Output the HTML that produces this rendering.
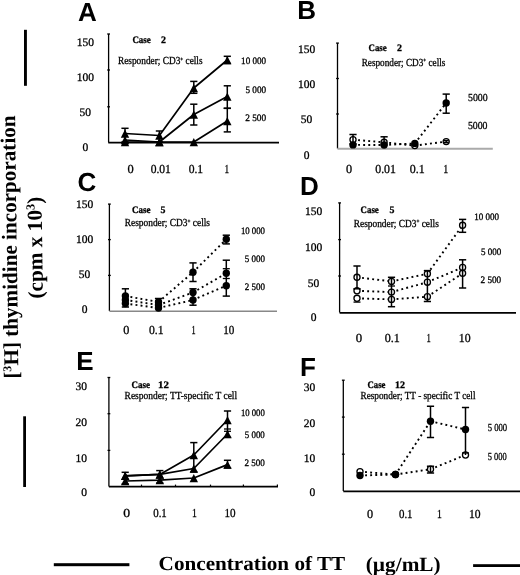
<!DOCTYPE html><html><head><meta charset="utf-8"><style>html,body{margin:0;padding:0;background:#fff;}svg{display:block;filter:grayscale(1);} text{text-rendering:geometricPrecision;}</style></head><body>
<svg width="520" height="575" viewBox="0 0 520 575">
<rect width="520" height="575" fill="#fff"/>
<text x="78.0" y="20.9" font-family='"Liberation Sans", sans-serif' font-size="26" font-weight="bold" text-anchor="start" fill="#000">A</text>
<text x="297.3" y="18.8" font-family='"Liberation Sans", sans-serif' font-size="26" font-weight="bold" text-anchor="start" fill="#000">B</text>
<text x="77.6" y="191.2" font-family='"Liberation Sans", sans-serif' font-size="26" font-weight="bold" text-anchor="start" fill="#000">C</text>
<text x="300.1" y="194.5" font-family='"Liberation Sans", sans-serif' font-size="26" font-weight="bold" text-anchor="start" fill="#000">D</text>
<text x="76.3" y="369.8" font-family='"Liberation Sans", sans-serif' font-size="26" font-weight="bold" text-anchor="start" fill="#000">E</text>
<text x="300.1" y="375.8" font-family='"Liberation Sans", sans-serif' font-size="26" font-weight="bold" text-anchor="start" fill="#000">F</text>
<rect x="24" y="29.8" width="2.9" height="56" fill="#000"/>
<rect x="23.2" y="416.3" width="2.8" height="70.7" fill="#000"/>
<g transform="translate(16.7,247.0) rotate(-90.75)">
<text x="0" y="0" font-family='"Liberation Serif", serif' font-size="21.15" font-weight="bold" text-anchor="middle" fill="#000">[<tspan font-size="12" dy="-7">3</tspan><tspan dy="7">H] thymidine incorporation</tspan></text>
</g>
<g transform="translate(42.2,247.6) rotate(-90.75)">
<text x="0" y="0" font-family='"Liberation Serif", serif' font-size="21.3" font-weight="bold" text-anchor="middle" fill="#000">(cpm x 10<tspan font-size="12.4" dy="-7.2">3</tspan><tspan dy="7.2">)</tspan></text>
</g>
<rect x="53.8" y="563.2" width="75.6" height="3" fill="#000"/>
<rect x="473.1" y="564.2" width="47" height="2.8" fill="#000"/>
<text x="158.6" y="570.2" font-family='"Liberation Serif", serif' font-size="19.9" font-weight="bold" textLength="186.6" lengthAdjust="spacingAndGlyphs" text-anchor="start" fill="#000">Concentration of TT</text>
<text x="365.8" y="571" font-family='"Liberation Serif", serif' font-size="20.3" font-weight="bold" textLength="74.8" lengthAdjust="spacingAndGlyphs" text-anchor="start" fill="#000">(µg/mL)</text>
<line x1="108.6" y1="34" x2="108.6" y2="142.6" stroke="#000" stroke-width="1.3" stroke-linecap="butt"/>
<line x1="107.19999999999999" y1="34" x2="110.0" y2="34" stroke="#000" stroke-width="1.3" stroke-linecap="butt"/>
<line x1="107.19999999999999" y1="70" x2="110.0" y2="70" stroke="#000" stroke-width="1.3" stroke-linecap="butt"/>
<line x1="107.19999999999999" y1="106.8" x2="110.0" y2="106.8" stroke="#000" stroke-width="1.3" stroke-linecap="butt"/>
<line x1="108.3" y1="142.6" x2="279" y2="142.6" stroke="#000" stroke-width="1.7" stroke-linecap="butt"/>
<text x="85.3" y="45.8" font-family='"Liberation Serif", serif' font-size="11.5" stroke="#000" stroke-width="0.3" text-anchor="middle" fill="#000">150</text>
<text x="85.3" y="80.6" font-family='"Liberation Serif", serif' font-size="11.5" stroke="#000" stroke-width="0.3" text-anchor="middle" fill="#000">100</text>
<text x="85.3" y="115.9" font-family='"Liberation Serif", serif' font-size="11.5" stroke="#000" stroke-width="0.3" text-anchor="middle" fill="#000">50</text>
<text x="85.3" y="151" font-family='"Liberation Serif", serif' font-size="11.5" stroke="#000" stroke-width="0.3" text-anchor="middle" fill="#000">0</text>
<text x="127.5465" y="172.5" font-family='"Liberation Serif", serif' font-size="12.3" textLength="6.21" lengthAdjust="spacingAndGlyphs" stroke="#000" stroke-width="0.3" text-anchor="start" fill="#000">0</text>
<text x="150.64649999999997" y="172.5" font-family='"Liberation Serif", serif' font-size="12.3" textLength="20.21" lengthAdjust="spacingAndGlyphs" stroke="#000" stroke-width="0.3" text-anchor="start" fill="#000">0.01</text>
<text x="188.64649999999997" y="172.5" font-family='"Liberation Serif", serif' font-size="12.3" textLength="14.51" lengthAdjust="spacingAndGlyphs" stroke="#000" stroke-width="0.3" text-anchor="start" fill="#000">0.1</text>
<text x="224.4465" y="172.5" font-family='"Liberation Serif", serif' font-size="12.3" textLength="4.61" lengthAdjust="spacingAndGlyphs" stroke="#000" stroke-width="0.3" text-anchor="start" fill="#000">1</text>
<text x="132.4" y="43.1" font-family='"Liberation Serif", serif' font-size="9.9" font-weight="bold" textLength="18.4" lengthAdjust="spacingAndGlyphs" stroke="#000" stroke-width="0.3" text-anchor="start" fill="#000">Case</text>
<text x="161.1" y="43.1" font-family='"Liberation Serif", serif' font-size="9.9" font-weight="bold" stroke="#000" stroke-width="0.3" text-anchor="start" fill="#000">2</text>
<text x="118" y="64.3" font-family='"Liberation Serif", serif' font-size="10.8" textLength="84.6" lengthAdjust="spacingAndGlyphs" stroke="#000" stroke-width="0.3" text-anchor="start" fill="#000">Responder; CD3<tspan font-size="6" dy="-3.5">+</tspan><tspan dy="3.5"> cells</tspan></text>
<text x="266.1" y="64.4" font-family='"Liberation Serif", serif' font-size="9.8" textLength="25" lengthAdjust="spacingAndGlyphs" stroke="#000" stroke-width="0.3" text-anchor="end" fill="#000">10 000</text>
<text x="266.1" y="93.1" font-family='"Liberation Serif", serif' font-size="9.8" textLength="20.7" lengthAdjust="spacingAndGlyphs" stroke="#000" stroke-width="0.3" text-anchor="end" fill="#000">5 000</text>
<text x="266.1" y="121.2" font-family='"Liberation Serif", serif' font-size="9.8" textLength="20.9" lengthAdjust="spacingAndGlyphs" stroke="#000" stroke-width="0.3" text-anchor="end" fill="#000">2 500</text>
<polyline points="125,133.5 159.4,135.5 193.8,88 227.3,60" fill="none" stroke="#000" stroke-width="1.7" stroke-linecap="butt" stroke-linejoin="round"/>
<polyline points="125,140 159.4,142 193.8,114.5 227.3,96.5" fill="none" stroke="#000" stroke-width="1.7" stroke-linecap="butt" stroke-linejoin="round"/>
<polyline points="125,142 159.4,142 193.8,142 227.3,121" fill="none" stroke="#000" stroke-width="1.7" stroke-linecap="butt" stroke-linejoin="round"/>
<line x1="125" y1="128.3" x2="125" y2="142" stroke="#000" stroke-width="1.5" stroke-linecap="butt"/>
<line x1="121.4" y1="128.3" x2="128.6" y2="128.3" stroke="#000" stroke-width="1.5" stroke-linecap="butt"/>
<line x1="121.4" y1="142" x2="128.6" y2="142" stroke="#000" stroke-width="1.5" stroke-linecap="butt"/>
<line x1="159.4" y1="131" x2="159.4" y2="142" stroke="#000" stroke-width="1.5" stroke-linecap="butt"/>
<line x1="155.8" y1="131" x2="163.0" y2="131" stroke="#000" stroke-width="1.5" stroke-linecap="butt"/>
<line x1="155.8" y1="142" x2="163.0" y2="142" stroke="#000" stroke-width="1.5" stroke-linecap="butt"/>
<line x1="193.8" y1="81.4" x2="193.8" y2="93.3" stroke="#000" stroke-width="1.5" stroke-linecap="butt"/>
<line x1="190.20000000000002" y1="81.4" x2="197.4" y2="81.4" stroke="#000" stroke-width="1.5" stroke-linecap="butt"/>
<line x1="190.20000000000002" y1="93.3" x2="197.4" y2="93.3" stroke="#000" stroke-width="1.5" stroke-linecap="butt"/>
<line x1="193.8" y1="104.2" x2="193.8" y2="125" stroke="#000" stroke-width="1.5" stroke-linecap="butt"/>
<line x1="190.20000000000002" y1="104.2" x2="197.4" y2="104.2" stroke="#000" stroke-width="1.5" stroke-linecap="butt"/>
<line x1="190.20000000000002" y1="125" x2="197.4" y2="125" stroke="#000" stroke-width="1.5" stroke-linecap="butt"/>
<line x1="227.3" y1="56.3" x2="227.3" y2="63.5" stroke="#000" stroke-width="1.5" stroke-linecap="butt"/>
<line x1="223.70000000000002" y1="56.3" x2="230.9" y2="56.3" stroke="#000" stroke-width="1.5" stroke-linecap="butt"/>
<line x1="223.70000000000002" y1="63.5" x2="230.9" y2="63.5" stroke="#000" stroke-width="1.5" stroke-linecap="butt"/>
<line x1="227.3" y1="85.8" x2="227.3" y2="108.3" stroke="#000" stroke-width="1.5" stroke-linecap="butt"/>
<line x1="223.70000000000002" y1="85.8" x2="230.9" y2="85.8" stroke="#000" stroke-width="1.5" stroke-linecap="butt"/>
<line x1="223.70000000000002" y1="108.3" x2="230.9" y2="108.3" stroke="#000" stroke-width="1.5" stroke-linecap="butt"/>
<line x1="227.3" y1="108.3" x2="227.3" y2="131.9" stroke="#000" stroke-width="1.5" stroke-linecap="butt"/>
<line x1="223.70000000000002" y1="108.3" x2="230.9" y2="108.3" stroke="#000" stroke-width="1.5" stroke-linecap="butt"/>
<line x1="223.70000000000002" y1="131.9" x2="230.9" y2="131.9" stroke="#000" stroke-width="1.5" stroke-linecap="butt"/>
<polygon points="120.8,137.764 129.2,137.764 125,129.564" fill="#000"/>
<polygon points="155.20000000000002,139.764 163.6,139.764 159.4,131.564" fill="#000"/>
<polygon points="189.60000000000002,92.264 198.0,92.264 193.8,84.06400000000001" fill="#000"/>
<polygon points="223.10000000000002,64.264 231.5,64.264 227.3,56.064" fill="#000"/>
<polygon points="120.8,144.264 129.2,144.264 125,136.064" fill="#000"/>
<polygon points="155.20000000000002,146.264 163.6,146.264 159.4,138.064" fill="#000"/>
<polygon points="189.60000000000002,118.764 198.0,118.764 193.8,110.56400000000001" fill="#000"/>
<polygon points="223.10000000000002,100.764 231.5,100.764 227.3,92.56400000000001" fill="#000"/>
<polygon points="120.8,146.264 129.2,146.264 125,138.064" fill="#000"/>
<polygon points="155.20000000000002,146.264 163.6,146.264 159.4,138.064" fill="#000"/>
<polygon points="189.60000000000002,146.264 198.0,146.264 193.8,138.064" fill="#000"/>
<polygon points="223.10000000000002,125.264 231.5,125.264 227.3,117.06400000000001" fill="#000"/>
<line x1="337.5" y1="43.1" x2="337.5" y2="148.5" stroke="#000" stroke-width="1.3" stroke-linecap="butt"/>
<line x1="336.1" y1="43.1" x2="338.9" y2="43.1" stroke="#000" stroke-width="1.3" stroke-linecap="butt"/>
<line x1="336.1" y1="78.5" x2="338.9" y2="78.5" stroke="#000" stroke-width="1.3" stroke-linecap="butt"/>
<line x1="336.1" y1="114" x2="338.9" y2="114" stroke="#000" stroke-width="1.3" stroke-linecap="butt"/>
<line x1="337.5" y1="148.7" x2="492.8" y2="148.7" stroke="#aaa" stroke-width="1.9" stroke-linecap="butt"/>
<text x="306.6" y="52.9" font-family='"Liberation Serif", serif' font-size="11.5" stroke="#000" stroke-width="0.3" text-anchor="middle" fill="#000">150</text>
<text x="306.6" y="87.9" font-family='"Liberation Serif", serif' font-size="11.5" stroke="#000" stroke-width="0.3" text-anchor="middle" fill="#000">100</text>
<text x="306.6" y="123.3" font-family='"Liberation Serif", serif' font-size="11.5" stroke="#000" stroke-width="0.3" text-anchor="middle" fill="#000">50</text>
<text x="306.6" y="158.7" font-family='"Liberation Serif", serif' font-size="11.5" stroke="#000" stroke-width="0.3" text-anchor="middle" fill="#000">0</text>
<text x="345.9465" y="172.7" font-family='"Liberation Serif", serif' font-size="12.3" textLength="6.11" lengthAdjust="spacingAndGlyphs" stroke="#000" stroke-width="0.3" text-anchor="start" fill="#000">0</text>
<text x="375.2465" y="172.7" font-family='"Liberation Serif", serif' font-size="12.3" textLength="20.71" lengthAdjust="spacingAndGlyphs" stroke="#000" stroke-width="0.3" text-anchor="start" fill="#000">0.01</text>
<text x="409.8465" y="172.7" font-family='"Liberation Serif", serif' font-size="12.3" textLength="14.91" lengthAdjust="spacingAndGlyphs" stroke="#000" stroke-width="0.3" text-anchor="start" fill="#000">0.1</text>
<text x="443.3465" y="172.7" font-family='"Liberation Serif", serif' font-size="12.3" textLength="5.01" lengthAdjust="spacingAndGlyphs" stroke="#000" stroke-width="0.3" text-anchor="start" fill="#000">1</text>
<text x="368.5" y="51" font-family='"Liberation Serif", serif' font-size="9.9" font-weight="bold" textLength="18.2" lengthAdjust="spacingAndGlyphs" stroke="#000" stroke-width="0.3" text-anchor="start" fill="#000">Case</text>
<text x="396.9" y="51" font-family='"Liberation Serif", serif' font-size="9.9" font-weight="bold" stroke="#000" stroke-width="0.3" text-anchor="start" fill="#000">2</text>
<text x="361.7" y="65.8" font-family='"Liberation Serif", serif' font-size="10.8" textLength="83.7" lengthAdjust="spacingAndGlyphs" stroke="#000" stroke-width="0.3" text-anchor="start" fill="#000">Responder; CD3<tspan font-size="6" dy="-3.5">+</tspan><tspan dy="3.5"> cells</tspan></text>
<text x="487.7" y="100.7" font-family='"Liberation Serif", serif' font-size="10.8" textLength="19.7" lengthAdjust="spacingAndGlyphs" stroke="#000" stroke-width="0.3" text-anchor="end" fill="#000">5000</text>
<text x="487.5" y="128.7" font-family='"Liberation Serif", serif' font-size="10.8" textLength="19.6" lengthAdjust="spacingAndGlyphs" stroke="#000" stroke-width="0.3" text-anchor="end" fill="#000">5000</text>
<line x1="353" y1="144.9" x2="384.1" y2="145" stroke="#000" stroke-width="1.9" stroke-linecap="butt" stroke-dasharray="1.9 3.2"/>
<line x1="384.1" y1="145" x2="414.8" y2="143.4" stroke="#000" stroke-width="1.9" stroke-linecap="butt" stroke-dasharray="1.9 3.2"/>
<line x1="414.8" y1="143.4" x2="446.2" y2="103" stroke="#000" stroke-width="1.9" stroke-linecap="butt" stroke-dasharray="1.9 3.2"/>
<line x1="353" y1="139.7" x2="384.1" y2="142.3" stroke="#000" stroke-width="1.9" stroke-linecap="butt" stroke-dasharray="1.9 3.2"/>
<line x1="384.1" y1="142.3" x2="414.8" y2="145.6" stroke="#000" stroke-width="1.9" stroke-linecap="butt" stroke-dasharray="1.9 3.2"/>
<line x1="414.8" y1="145.6" x2="446.2" y2="141.6" stroke="#000" stroke-width="1.9" stroke-linecap="butt" stroke-dasharray="1.9 3.2"/>
<circle cx="353" cy="139.7" r="3.0500000000000003" fill="#fff" stroke="#000" stroke-width="1.3"/>
<circle cx="384.1" cy="142.3" r="3.0500000000000003" fill="#fff" stroke="#000" stroke-width="1.3"/>
<circle cx="414.8" cy="145.6" r="3.0500000000000003" fill="#fff" stroke="#000" stroke-width="1.3"/>
<circle cx="446.2" cy="141.6" r="3.0500000000000003" fill="#fff" stroke="#000" stroke-width="1.3"/>
<line x1="353" y1="134.5" x2="353" y2="144" stroke="#000" stroke-width="1.5" stroke-linecap="butt"/>
<line x1="349.4" y1="134.5" x2="356.6" y2="134.5" stroke="#000" stroke-width="1.5" stroke-linecap="butt"/>
<line x1="349.4" y1="144" x2="356.6" y2="144" stroke="#000" stroke-width="1.5" stroke-linecap="butt"/>
<line x1="384.1" y1="136.8" x2="384.1" y2="145" stroke="#000" stroke-width="1.5" stroke-linecap="butt"/>
<line x1="380.5" y1="136.8" x2="387.70000000000005" y2="136.8" stroke="#000" stroke-width="1.5" stroke-linecap="butt"/>
<line x1="380.5" y1="145" x2="387.70000000000005" y2="145" stroke="#000" stroke-width="1.5" stroke-linecap="butt"/>
<line x1="446.2" y1="94.1" x2="446.2" y2="113.2" stroke="#000" stroke-width="1.5" stroke-linecap="butt"/>
<line x1="442.59999999999997" y1="94.1" x2="449.8" y2="94.1" stroke="#000" stroke-width="1.5" stroke-linecap="butt"/>
<line x1="442.59999999999997" y1="113.2" x2="449.8" y2="113.2" stroke="#000" stroke-width="1.5" stroke-linecap="butt"/>
<line x1="446.2" y1="140.6" x2="446.2" y2="142.6" stroke="#000" stroke-width="1.5" stroke-linecap="butt"/>
<line x1="443.7" y1="140.6" x2="448.7" y2="140.6" stroke="#000" stroke-width="1.5" stroke-linecap="butt"/>
<line x1="443.7" y1="142.6" x2="448.7" y2="142.6" stroke="#000" stroke-width="1.5" stroke-linecap="butt"/>
<circle cx="353" cy="144.9" r="3.7" fill="#000"/>
<circle cx="384.1" cy="145" r="3.7" fill="#000"/>
<circle cx="414.8" cy="143.4" r="3.7" fill="#000"/>
<circle cx="446.2" cy="103" r="3.7" fill="#000"/>
<line x1="109.4" y1="204.1" x2="109.4" y2="310.9" stroke="#000" stroke-width="1.3" stroke-linecap="butt"/>
<line x1="108.0" y1="204.1" x2="110.80000000000001" y2="204.1" stroke="#000" stroke-width="1.3" stroke-linecap="butt"/>
<line x1="108.0" y1="239.6" x2="110.80000000000001" y2="239.6" stroke="#000" stroke-width="1.3" stroke-linecap="butt"/>
<line x1="108.0" y1="275.4" x2="110.80000000000001" y2="275.4" stroke="#000" stroke-width="1.3" stroke-linecap="butt"/>
<line x1="109.4" y1="311.2" x2="277" y2="311.2" stroke="#888" stroke-width="1.6" stroke-linecap="butt"/>
<text x="84.5" y="207.6" font-family='"Liberation Serif", serif' font-size="11.5" stroke="#000" stroke-width="0.3" text-anchor="middle" fill="#000">150</text>
<text x="84.5" y="242.8" font-family='"Liberation Serif", serif' font-size="11.5" stroke="#000" stroke-width="0.3" text-anchor="middle" fill="#000">100</text>
<text x="84.5" y="278.3" font-family='"Liberation Serif", serif' font-size="11.5" stroke="#000" stroke-width="0.3" text-anchor="middle" fill="#000">50</text>
<text x="84.5" y="313" font-family='"Liberation Serif", serif' font-size="11.5" stroke="#000" stroke-width="0.3" text-anchor="middle" fill="#000">0</text>
<text x="123.1965" y="334.25" font-family='"Liberation Serif", serif' font-size="12.3" textLength="6.11" lengthAdjust="spacingAndGlyphs" stroke="#000" stroke-width="0.3" text-anchor="start" fill="#000">0</text>
<text x="148.9465" y="334.25" font-family='"Liberation Serif", serif' font-size="12.3" textLength="14.61" lengthAdjust="spacingAndGlyphs" stroke="#000" stroke-width="0.3" text-anchor="start" fill="#000">0.1</text>
<text x="191.4465" y="334.25" font-family='"Liberation Serif", serif' font-size="12.3" textLength="4.11" lengthAdjust="spacingAndGlyphs" stroke="#000" stroke-width="0.3" text-anchor="start" fill="#000">1</text>
<text x="223.1965" y="334.25" font-family='"Liberation Serif", serif' font-size="12.3" textLength="11.11" lengthAdjust="spacingAndGlyphs" stroke="#000" stroke-width="0.3" text-anchor="start" fill="#000">10</text>
<text x="131.9" y="212.5" font-family='"Liberation Serif", serif' font-size="9.9" font-weight="bold" textLength="18.5" lengthAdjust="spacingAndGlyphs" stroke="#000" stroke-width="0.3" text-anchor="start" fill="#000">Case</text>
<text x="160.4" y="212.5" font-family='"Liberation Serif", serif' font-size="9.9" font-weight="bold" stroke="#000" stroke-width="0.3" text-anchor="start" fill="#000">5</text>
<text x="124.8" y="226.3" font-family='"Liberation Serif", serif' font-size="10.8" textLength="85.2" lengthAdjust="spacingAndGlyphs" stroke="#000" stroke-width="0.3" text-anchor="start" fill="#000">Responder; CD3<tspan font-size="6" dy="-3.5">+</tspan><tspan dy="3.5"> cells</tspan></text>
<text x="265" y="233.7" font-family='"Liberation Serif", serif' font-size="9.8" textLength="24.1" lengthAdjust="spacingAndGlyphs" stroke="#000" stroke-width="0.3" text-anchor="end" fill="#000">10 000</text>
<text x="265" y="261.5" font-family='"Liberation Serif", serif' font-size="9.8" textLength="20.2" lengthAdjust="spacingAndGlyphs" stroke="#000" stroke-width="0.3" text-anchor="end" fill="#000">5 000</text>
<text x="265" y="289.9" font-family='"Liberation Serif", serif' font-size="9.8" textLength="20.2" lengthAdjust="spacingAndGlyphs" stroke="#000" stroke-width="0.3" text-anchor="end" fill="#000">2 500</text>
<line x1="125.4" y1="296" x2="158.5" y2="302" stroke="#000" stroke-width="1.9" stroke-linecap="butt" stroke-dasharray="1.9 3.2"/>
<line x1="158.5" y1="302" x2="193" y2="272.2" stroke="#000" stroke-width="1.9" stroke-linecap="butt" stroke-dasharray="1.9 3.2"/>
<line x1="193" y1="272.2" x2="226.3" y2="239.3" stroke="#000" stroke-width="1.9" stroke-linecap="butt" stroke-dasharray="1.9 3.2"/>
<line x1="125.4" y1="300" x2="158.5" y2="305" stroke="#000" stroke-width="1.9" stroke-linecap="butt" stroke-dasharray="1.9 3.2"/>
<line x1="158.5" y1="305" x2="193" y2="292.5" stroke="#000" stroke-width="1.9" stroke-linecap="butt" stroke-dasharray="1.9 3.2"/>
<line x1="193" y1="292.5" x2="226.3" y2="273.3" stroke="#000" stroke-width="1.9" stroke-linecap="butt" stroke-dasharray="1.9 3.2"/>
<line x1="125.4" y1="303.5" x2="158.5" y2="308" stroke="#000" stroke-width="1.9" stroke-linecap="butt" stroke-dasharray="1.9 3.2"/>
<line x1="158.5" y1="308" x2="193" y2="300" stroke="#000" stroke-width="1.9" stroke-linecap="butt" stroke-dasharray="1.9 3.2"/>
<line x1="193" y1="300" x2="226.3" y2="285.7" stroke="#000" stroke-width="1.9" stroke-linecap="butt" stroke-dasharray="1.9 3.2"/>
<line x1="125.4" y1="288.8" x2="125.4" y2="307" stroke="#000" stroke-width="1.5" stroke-linecap="butt"/>
<line x1="121.80000000000001" y1="288.8" x2="129.0" y2="288.8" stroke="#000" stroke-width="1.5" stroke-linecap="butt"/>
<line x1="121.80000000000001" y1="307" x2="129.0" y2="307" stroke="#000" stroke-width="1.5" stroke-linecap="butt"/>
<line x1="158.5" y1="298.5" x2="158.5" y2="311" stroke="#000" stroke-width="1.5" stroke-linecap="butt"/>
<line x1="154.9" y1="298.5" x2="162.1" y2="298.5" stroke="#000" stroke-width="1.5" stroke-linecap="butt"/>
<line x1="193" y1="262.9" x2="193" y2="281.5" stroke="#000" stroke-width="1.5" stroke-linecap="butt"/>
<line x1="189.4" y1="262.9" x2="196.6" y2="262.9" stroke="#000" stroke-width="1.5" stroke-linecap="butt"/>
<line x1="189.4" y1="281.5" x2="196.6" y2="281.5" stroke="#000" stroke-width="1.5" stroke-linecap="butt"/>
<line x1="193" y1="288.8" x2="193" y2="305.2" stroke="#000" stroke-width="1.5" stroke-linecap="butt"/>
<line x1="189.4" y1="288.8" x2="196.6" y2="288.8" stroke="#000" stroke-width="1.5" stroke-linecap="butt"/>
<line x1="189.4" y1="305.2" x2="196.6" y2="305.2" stroke="#000" stroke-width="1.5" stroke-linecap="butt"/>
<line x1="226.3" y1="235.2" x2="226.3" y2="243.9" stroke="#000" stroke-width="1.5" stroke-linecap="butt"/>
<line x1="222.70000000000002" y1="235.2" x2="229.9" y2="235.2" stroke="#000" stroke-width="1.5" stroke-linecap="butt"/>
<line x1="222.70000000000002" y1="243.9" x2="229.9" y2="243.9" stroke="#000" stroke-width="1.5" stroke-linecap="butt"/>
<line x1="226.3" y1="260.2" x2="226.3" y2="296.1" stroke="#000" stroke-width="1.5" stroke-linecap="butt"/>
<line x1="222.70000000000002" y1="260.2" x2="229.9" y2="260.2" stroke="#000" stroke-width="1.5" stroke-linecap="butt"/>
<line x1="222.70000000000002" y1="296.1" x2="229.9" y2="296.1" stroke="#000" stroke-width="1.5" stroke-linecap="butt"/>
<line x1="222.8" y1="268.7" x2="229.8" y2="268.7" stroke="#000" stroke-width="1.3" stroke-linecap="butt"/>
<line x1="222.8" y1="278.5" x2="229.8" y2="278.5" stroke="#000" stroke-width="1.3" stroke-linecap="butt"/>
<circle cx="125.4" cy="296" r="3.7" fill="#000"/>
<circle cx="158.5" cy="302" r="3.7" fill="#000"/>
<circle cx="193" cy="272.2" r="3.7" fill="#000"/>
<circle cx="226.3" cy="239.3" r="3.7" fill="#000"/>
<circle cx="125.4" cy="300" r="3.7" fill="#000"/>
<circle cx="158.5" cy="305" r="3.7" fill="#000"/>
<circle cx="193" cy="292.5" r="3.7" fill="#000"/>
<circle cx="226.3" cy="273.3" r="3.7" fill="#000"/>
<circle cx="125.4" cy="303.5" r="3.7" fill="#000"/>
<circle cx="158.5" cy="308" r="3.7" fill="#000"/>
<circle cx="193" cy="300" r="3.7" fill="#000"/>
<circle cx="226.3" cy="285.7" r="3.7" fill="#000"/>
<line x1="339.6" y1="202.9" x2="339.6" y2="312.5" stroke="#000" stroke-width="1.3" stroke-linecap="butt"/>
<line x1="338.20000000000005" y1="202.9" x2="341.0" y2="202.9" stroke="#000" stroke-width="1.3" stroke-linecap="butt"/>
<line x1="338.20000000000005" y1="239.6" x2="341.0" y2="239.6" stroke="#000" stroke-width="1.3" stroke-linecap="butt"/>
<line x1="338.20000000000005" y1="276" x2="341.0" y2="276" stroke="#000" stroke-width="1.3" stroke-linecap="butt"/>
<line x1="339.6" y1="312.8" x2="516" y2="312.8" stroke="#000" stroke-width="1.7" stroke-linecap="butt"/>
<text x="313.5" y="215.4" font-family='"Liberation Serif", serif' font-size="11.5" stroke="#000" stroke-width="0.3" text-anchor="middle" fill="#000">150</text>
<text x="313.5" y="251.1" font-family='"Liberation Serif", serif' font-size="11.5" stroke="#000" stroke-width="0.3" text-anchor="middle" fill="#000">100</text>
<text x="313.5" y="286.7" font-family='"Liberation Serif", serif' font-size="11.5" stroke="#000" stroke-width="0.3" text-anchor="middle" fill="#000">50</text>
<text x="313.5" y="320.6" font-family='"Liberation Serif", serif' font-size="11.5" stroke="#000" stroke-width="0.3" text-anchor="middle" fill="#000">0</text>
<text x="355.6465" y="341.7" font-family='"Liberation Serif", serif' font-size="12.3" textLength="6.41" lengthAdjust="spacingAndGlyphs" stroke="#000" stroke-width="0.3" text-anchor="start" fill="#000">0</text>
<text x="384.6465" y="341.7" font-family='"Liberation Serif", serif' font-size="12.3" textLength="15.11" lengthAdjust="spacingAndGlyphs" stroke="#000" stroke-width="0.3" text-anchor="start" fill="#000">0.1</text>
<text x="426.4465" y="341.7" font-family='"Liberation Serif", serif' font-size="12.3" textLength="4.31" lengthAdjust="spacingAndGlyphs" stroke="#000" stroke-width="0.3" text-anchor="start" fill="#000">1</text>
<text x="458.7465" y="341.7" font-family='"Liberation Serif", serif' font-size="12.3" textLength="11.81" lengthAdjust="spacingAndGlyphs" stroke="#000" stroke-width="0.3" text-anchor="start" fill="#000">10</text>
<text x="360.6" y="212.9" font-family='"Liberation Serif", serif' font-size="9.9" font-weight="bold" textLength="18.2" lengthAdjust="spacingAndGlyphs" stroke="#000" stroke-width="0.3" text-anchor="start" fill="#000">Case</text>
<text x="389.4" y="212.9" font-family='"Liberation Serif", serif' font-size="9.9" font-weight="bold" stroke="#000" stroke-width="0.3" text-anchor="start" fill="#000">5</text>
<text x="353.8" y="226.9" font-family='"Liberation Serif", serif' font-size="10.8" textLength="85" lengthAdjust="spacingAndGlyphs" stroke="#000" stroke-width="0.3" text-anchor="start" fill="#000">Responder; CD3<tspan font-size="6" dy="-3.5">+</tspan><tspan dy="3.5"> cells</tspan></text>
<text x="499" y="219.8" font-family='"Liberation Serif", serif' font-size="9.8" textLength="24.8" lengthAdjust="spacingAndGlyphs" stroke="#000" stroke-width="0.3" text-anchor="end" fill="#000">10 000</text>
<text x="501.2" y="255.2" font-family='"Liberation Serif", serif' font-size="9.8" textLength="20.3" lengthAdjust="spacingAndGlyphs" stroke="#000" stroke-width="0.3" text-anchor="end" fill="#000">5 000</text>
<text x="501.2" y="282.9" font-family='"Liberation Serif", serif' font-size="9.8" textLength="20.7" lengthAdjust="spacingAndGlyphs" stroke="#000" stroke-width="0.3" text-anchor="end" fill="#000">2 500</text>
<line x1="357" y1="277.3" x2="391.5" y2="281.4" stroke="#000" stroke-width="1.9" stroke-linecap="butt" stroke-dasharray="1.9 3.2"/>
<line x1="391.5" y1="281.4" x2="427.4" y2="273.8" stroke="#000" stroke-width="1.9" stroke-linecap="butt" stroke-dasharray="1.9 3.2"/>
<line x1="427.4" y1="273.8" x2="462.6" y2="225.3" stroke="#000" stroke-width="1.9" stroke-linecap="butt" stroke-dasharray="1.9 3.2"/>
<line x1="357" y1="290.8" x2="391.5" y2="292.1" stroke="#000" stroke-width="1.9" stroke-linecap="butt" stroke-dasharray="1.9 3.2"/>
<line x1="391.5" y1="292.1" x2="427.4" y2="282.2" stroke="#000" stroke-width="1.9" stroke-linecap="butt" stroke-dasharray="1.9 3.2"/>
<line x1="427.4" y1="282.2" x2="462.6" y2="267.4" stroke="#000" stroke-width="1.9" stroke-linecap="butt" stroke-dasharray="1.9 3.2"/>
<line x1="357" y1="298.3" x2="391.5" y2="299.4" stroke="#000" stroke-width="1.9" stroke-linecap="butt" stroke-dasharray="1.9 3.2"/>
<line x1="391.5" y1="299.4" x2="427.4" y2="296.7" stroke="#000" stroke-width="1.9" stroke-linecap="butt" stroke-dasharray="1.9 3.2"/>
<line x1="427.4" y1="296.7" x2="462.6" y2="273.3" stroke="#000" stroke-width="1.9" stroke-linecap="butt" stroke-dasharray="1.9 3.2"/>
<circle cx="357" cy="277.3" r="3.0500000000000003" fill="#fff" stroke="#000" stroke-width="1.3"/>
<circle cx="391.5" cy="281.4" r="3.0500000000000003" fill="#fff" stroke="#000" stroke-width="1.3"/>
<circle cx="427.4" cy="273.8" r="3.0500000000000003" fill="#fff" stroke="#000" stroke-width="1.3"/>
<circle cx="462.6" cy="225.3" r="3.0500000000000003" fill="#fff" stroke="#000" stroke-width="1.3"/>
<circle cx="357" cy="290.8" r="3.0500000000000003" fill="#fff" stroke="#000" stroke-width="1.3"/>
<circle cx="391.5" cy="292.1" r="3.0500000000000003" fill="#fff" stroke="#000" stroke-width="1.3"/>
<circle cx="427.4" cy="282.2" r="3.0500000000000003" fill="#fff" stroke="#000" stroke-width="1.3"/>
<circle cx="462.6" cy="267.4" r="3.0500000000000003" fill="#fff" stroke="#000" stroke-width="1.3"/>
<circle cx="357" cy="298.3" r="3.0500000000000003" fill="#fff" stroke="#000" stroke-width="1.3"/>
<circle cx="391.5" cy="299.4" r="3.0500000000000003" fill="#fff" stroke="#000" stroke-width="1.3"/>
<circle cx="427.4" cy="296.7" r="3.0500000000000003" fill="#fff" stroke="#000" stroke-width="1.3"/>
<circle cx="462.6" cy="273.3" r="3.0500000000000003" fill="#fff" stroke="#000" stroke-width="1.3"/>
<line x1="357" y1="266" x2="357" y2="288.8" stroke="#000" stroke-width="1.5" stroke-linecap="butt"/>
<line x1="353.4" y1="266" x2="360.6" y2="266" stroke="#000" stroke-width="1.5" stroke-linecap="butt"/>
<line x1="353.4" y1="288.8" x2="360.6" y2="288.8" stroke="#000" stroke-width="1.5" stroke-linecap="butt"/>
<line x1="353.5" y1="302.1" x2="360.5" y2="302.1" stroke="#000" stroke-width="1.3" stroke-linecap="butt"/>
<line x1="391.5" y1="277.3" x2="391.5" y2="306.7" stroke="#000" stroke-width="1.5" stroke-linecap="butt"/>
<line x1="387.9" y1="277.3" x2="395.1" y2="277.3" stroke="#000" stroke-width="1.5" stroke-linecap="butt"/>
<line x1="387.9" y1="306.7" x2="395.1" y2="306.7" stroke="#000" stroke-width="1.5" stroke-linecap="butt"/>
<line x1="388.0" y1="286" x2="395.0" y2="286" stroke="#000" stroke-width="1.3" stroke-linecap="butt"/>
<line x1="427.4" y1="270.6" x2="427.4" y2="301.5" stroke="#000" stroke-width="1.5" stroke-linecap="butt"/>
<line x1="423.79999999999995" y1="270.6" x2="431.0" y2="270.6" stroke="#000" stroke-width="1.5" stroke-linecap="butt"/>
<line x1="423.79999999999995" y1="301.5" x2="431.0" y2="301.5" stroke="#000" stroke-width="1.5" stroke-linecap="butt"/>
<line x1="462.6" y1="219.4" x2="462.6" y2="232.3" stroke="#000" stroke-width="1.5" stroke-linecap="butt"/>
<line x1="459.0" y1="219.4" x2="466.20000000000005" y2="219.4" stroke="#000" stroke-width="1.5" stroke-linecap="butt"/>
<line x1="459.0" y1="232.3" x2="466.20000000000005" y2="232.3" stroke="#000" stroke-width="1.5" stroke-linecap="butt"/>
<line x1="462.6" y1="259.8" x2="462.6" y2="288" stroke="#000" stroke-width="1.5" stroke-linecap="butt"/>
<line x1="459.0" y1="259.8" x2="466.20000000000005" y2="259.8" stroke="#000" stroke-width="1.5" stroke-linecap="butt"/>
<line x1="459.0" y1="288" x2="466.20000000000005" y2="288" stroke="#000" stroke-width="1.5" stroke-linecap="butt"/>
<line x1="108.9" y1="377.5" x2="108.9" y2="486.4" stroke="#000" stroke-width="1.3" stroke-linecap="butt"/>
<line x1="107.5" y1="377.5" x2="110.30000000000001" y2="377.5" stroke="#000" stroke-width="1.3" stroke-linecap="butt"/>
<line x1="107.5" y1="413.7" x2="110.30000000000001" y2="413.7" stroke="#000" stroke-width="1.3" stroke-linecap="butt"/>
<line x1="107.5" y1="450.4" x2="110.30000000000001" y2="450.4" stroke="#000" stroke-width="1.3" stroke-linecap="butt"/>
<line x1="108.9" y1="486.6" x2="278" y2="486.6" stroke="#000" stroke-width="1.7" stroke-linecap="butt"/>
<line x1="141.5" y1="484.6" x2="141.5" y2="486.6" stroke="#000" stroke-width="1.2" stroke-linecap="butt"/>
<line x1="175.5" y1="484.6" x2="175.5" y2="486.6" stroke="#000" stroke-width="1.2" stroke-linecap="butt"/>
<line x1="210.5" y1="484.6" x2="210.5" y2="486.6" stroke="#000" stroke-width="1.2" stroke-linecap="butt"/>
<line x1="243.4" y1="484.6" x2="243.4" y2="486.6" stroke="#000" stroke-width="1.2" stroke-linecap="butt"/>
<line x1="277.4" y1="484.6" x2="277.4" y2="486.6" stroke="#000" stroke-width="1.2" stroke-linecap="butt"/>
<text x="87" y="390.4" font-family='"Liberation Serif", serif' font-size="11.5" stroke="#000" stroke-width="0.3" text-anchor="end" fill="#000">30</text>
<text x="87" y="426.1" font-family='"Liberation Serif", serif' font-size="11.5" stroke="#000" stroke-width="0.3" text-anchor="end" fill="#000">20</text>
<text x="87" y="461.7" font-family='"Liberation Serif", serif' font-size="11.5" stroke="#000" stroke-width="0.3" text-anchor="end" fill="#000">10</text>
<text x="87" y="495.6" font-family='"Liberation Serif", serif' font-size="11.5" stroke="#000" stroke-width="0.3" text-anchor="end" fill="#000">0</text>
<text x="123.1965" y="517" font-family='"Liberation Serif", serif' font-size="12.3" textLength="6.86" lengthAdjust="spacingAndGlyphs" stroke="#000" stroke-width="0.3" text-anchor="start" fill="#000">0</text>
<text x="153.1965" y="517" font-family='"Liberation Serif", serif' font-size="12.3" textLength="13.61" lengthAdjust="spacingAndGlyphs" stroke="#000" stroke-width="0.3" text-anchor="start" fill="#000">0.1</text>
<text x="191.9465" y="517" font-family='"Liberation Serif", serif' font-size="12.3" textLength="4.86" lengthAdjust="spacingAndGlyphs" stroke="#000" stroke-width="0.3" text-anchor="start" fill="#000">1</text>
<text x="224.4465" y="517" font-family='"Liberation Serif", serif' font-size="12.3" textLength="11.11" lengthAdjust="spacingAndGlyphs" stroke="#000" stroke-width="0.3" text-anchor="start" fill="#000">10</text>
<text x="131.5" y="387.7" font-family='"Liberation Serif", serif' font-size="9.9" font-weight="bold" textLength="18.5" lengthAdjust="spacingAndGlyphs" stroke="#000" stroke-width="0.3" text-anchor="start" fill="#000">Case</text>
<text x="158.1" y="387.7" font-family='"Liberation Serif", serif' font-size="9.9" font-weight="bold" textLength="10.8" lengthAdjust="spacingAndGlyphs" stroke="#000" stroke-width="0.3" text-anchor="start" fill="#000">12</text>
<text x="124.6" y="398.8" font-family='"Liberation Serif", serif' font-size="10.8" textLength="112.5" lengthAdjust="spacingAndGlyphs" stroke="#000" stroke-width="0.3" text-anchor="start" fill="#000">Responder; TT-specific T cell</text>
<text x="264.8" y="416.3" font-family='"Liberation Serif", serif' font-size="9.8" textLength="23.9" lengthAdjust="spacingAndGlyphs" stroke="#000" stroke-width="0.3" text-anchor="end" fill="#000">10 000</text>
<text x="264.8" y="437.6" font-family='"Liberation Serif", serif' font-size="9.8" textLength="20" lengthAdjust="spacingAndGlyphs" stroke="#000" stroke-width="0.3" text-anchor="end" fill="#000">5 000</text>
<text x="264.8" y="466" font-family='"Liberation Serif", serif' font-size="9.8" textLength="20.4" lengthAdjust="spacingAndGlyphs" stroke="#000" stroke-width="0.3" text-anchor="end" fill="#000">2 500</text>
<polyline points="125.2,475.8 159.8,474.4 193.8,455 227.5,420" fill="none" stroke="#000" stroke-width="1.7" stroke-linecap="butt" stroke-linejoin="round"/>
<polyline points="125.2,475.8 159.8,474.4 193.8,468.5 227.5,434" fill="none" stroke="#000" stroke-width="1.7" stroke-linecap="butt" stroke-linejoin="round"/>
<polyline points="125.2,481 159.8,480.1 193.8,478 227.5,464.6" fill="none" stroke="#000" stroke-width="1.7" stroke-linecap="butt" stroke-linejoin="round"/>
<line x1="125.2" y1="472.3" x2="125.2" y2="484" stroke="#000" stroke-width="1.5" stroke-linecap="butt"/>
<line x1="121.60000000000001" y1="472.3" x2="128.8" y2="472.3" stroke="#000" stroke-width="1.5" stroke-linecap="butt"/>
<line x1="121.60000000000001" y1="484" x2="128.8" y2="484" stroke="#000" stroke-width="1.5" stroke-linecap="butt"/>
<line x1="159.8" y1="470.6" x2="159.8" y2="483" stroke="#000" stroke-width="1.5" stroke-linecap="butt"/>
<line x1="156.20000000000002" y1="470.6" x2="163.4" y2="470.6" stroke="#000" stroke-width="1.5" stroke-linecap="butt"/>
<line x1="156.20000000000002" y1="483" x2="163.4" y2="483" stroke="#000" stroke-width="1.5" stroke-linecap="butt"/>
<line x1="193.8" y1="442.6" x2="193.8" y2="472" stroke="#000" stroke-width="1.5" stroke-linecap="butt"/>
<line x1="190.20000000000002" y1="442.6" x2="197.4" y2="442.6" stroke="#000" stroke-width="1.5" stroke-linecap="butt"/>
<line x1="190.20000000000002" y1="472" x2="197.4" y2="472" stroke="#000" stroke-width="1.5" stroke-linecap="butt"/>
<line x1="227.5" y1="411" x2="227.5" y2="437.3" stroke="#000" stroke-width="1.5" stroke-linecap="butt"/>
<line x1="223.9" y1="411" x2="231.1" y2="411" stroke="#000" stroke-width="1.5" stroke-linecap="butt"/>
<line x1="223.9" y1="437.3" x2="231.1" y2="437.3" stroke="#000" stroke-width="1.5" stroke-linecap="butt"/>
<line x1="224.0" y1="429" x2="231.0" y2="429" stroke="#000" stroke-width="1.3" stroke-linecap="butt"/>
<line x1="224.0" y1="431.3" x2="231.0" y2="431.3" stroke="#000" stroke-width="1.3" stroke-linecap="butt"/>
<line x1="227.5" y1="460.3" x2="227.5" y2="468" stroke="#000" stroke-width="1.5" stroke-linecap="butt"/>
<line x1="223.9" y1="460.3" x2="231.1" y2="460.3" stroke="#000" stroke-width="1.5" stroke-linecap="butt"/>
<line x1="223.9" y1="468" x2="231.1" y2="468" stroke="#000" stroke-width="1.5" stroke-linecap="butt"/>
<polygon points="121.0,480.064 129.4,480.064 125.2,471.86400000000003" fill="#000"/>
<polygon points="155.60000000000002,478.664 164.0,478.664 159.8,470.464" fill="#000"/>
<polygon points="189.60000000000002,459.264 198.0,459.264 193.8,451.064" fill="#000"/>
<polygon points="223.3,424.264 231.7,424.264 227.5,416.064" fill="#000"/>
<polygon points="121.0,480.064 129.4,480.064 125.2,471.86400000000003" fill="#000"/>
<polygon points="155.60000000000002,478.664 164.0,478.664 159.8,470.464" fill="#000"/>
<polygon points="189.60000000000002,472.764 198.0,472.764 193.8,464.564" fill="#000"/>
<polygon points="223.3,438.264 231.7,438.264 227.5,430.064" fill="#000"/>
<polygon points="121.0,485.264 129.4,485.264 125.2,477.064" fill="#000"/>
<polygon points="155.60000000000002,484.36400000000003 164.0,484.36400000000003 159.8,476.16400000000004" fill="#000"/>
<polygon points="189.60000000000002,482.264 198.0,482.264 193.8,474.064" fill="#000"/>
<polygon points="223.3,468.86400000000003 231.7,468.86400000000003 227.5,460.66400000000004" fill="#000"/>
<line x1="343.3" y1="380.2" x2="343.3" y2="491" stroke="#000" stroke-width="1.3" stroke-linecap="butt"/>
<line x1="341.90000000000003" y1="380.2" x2="344.7" y2="380.2" stroke="#000" stroke-width="1.3" stroke-linecap="butt"/>
<line x1="341.90000000000003" y1="417.1" x2="344.7" y2="417.1" stroke="#000" stroke-width="1.3" stroke-linecap="butt"/>
<line x1="341.90000000000003" y1="454.2" x2="344.7" y2="454.2" stroke="#000" stroke-width="1.3" stroke-linecap="butt"/>
<line x1="343.3" y1="491.4" x2="520" y2="491.4" stroke="#000" stroke-width="1.7" stroke-linecap="butt"/>
<text x="315.2" y="390.8" font-family='"Liberation Serif", serif' font-size="11.5" stroke="#000" stroke-width="0.3" text-anchor="end" fill="#000">30</text>
<text x="315.2" y="426.6" font-family='"Liberation Serif", serif' font-size="11.5" stroke="#000" stroke-width="0.3" text-anchor="end" fill="#000">20</text>
<text x="315.2" y="461.7" font-family='"Liberation Serif", serif' font-size="11.5" stroke="#000" stroke-width="0.3" text-anchor="end" fill="#000">10</text>
<text x="315.2" y="495.6" font-family='"Liberation Serif", serif' font-size="11.5" stroke="#000" stroke-width="0.3" text-anchor="end" fill="#000">0</text>
<text x="366.9465" y="517.5" font-family='"Liberation Serif", serif' font-size="12.3" textLength="6.11" lengthAdjust="spacingAndGlyphs" stroke="#000" stroke-width="0.3" text-anchor="start" fill="#000">0</text>
<text x="398.9465" y="517.5" font-family='"Liberation Serif", serif' font-size="12.3" textLength="13.61" lengthAdjust="spacingAndGlyphs" stroke="#000" stroke-width="0.3" text-anchor="start" fill="#000">0.1</text>
<text x="436.9465" y="517.5" font-family='"Liberation Serif", serif' font-size="12.3" textLength="4.86" lengthAdjust="spacingAndGlyphs" stroke="#000" stroke-width="0.3" text-anchor="start" fill="#000">1</text>
<text x="468.9465" y="517.5" font-family='"Liberation Serif", serif' font-size="12.3" textLength="11.61" lengthAdjust="spacingAndGlyphs" stroke="#000" stroke-width="0.3" text-anchor="start" fill="#000">10</text>
<text x="367.5" y="388.25" font-family='"Liberation Serif", serif' font-size="9.9" font-weight="bold" textLength="18" lengthAdjust="spacingAndGlyphs" stroke="#000" stroke-width="0.3" text-anchor="start" fill="#000">Case</text>
<text x="395" y="388.25" font-family='"Liberation Serif", serif' font-size="9.9" font-weight="bold" textLength="10" lengthAdjust="spacingAndGlyphs" stroke="#000" stroke-width="0.3" text-anchor="start" fill="#000">12</text>
<text x="360.5" y="399.25" font-family='"Liberation Serif", serif' font-size="10.8" textLength="115" lengthAdjust="spacingAndGlyphs" stroke="#000" stroke-width="0.3" text-anchor="start" fill="#000">Responder; TT - specific T cell</text>
<text x="507.2" y="430.9" font-family='"Liberation Serif", serif' font-size="10.8" textLength="19.5" lengthAdjust="spacingAndGlyphs" stroke="#000" stroke-width="0.3" text-anchor="end" fill="#000">5 000</text>
<text x="506.7" y="459.6" font-family='"Liberation Serif", serif' font-size="10.8" textLength="19" lengthAdjust="spacingAndGlyphs" stroke="#000" stroke-width="0.3" text-anchor="end" fill="#000">5 000</text>
<line x1="360" y1="475.5" x2="395.5" y2="474.5" stroke="#000" stroke-width="1.9" stroke-linecap="butt" stroke-dasharray="1.9 3.2"/>
<line x1="395.5" y1="474.5" x2="430.5" y2="421.25" stroke="#000" stroke-width="1.9" stroke-linecap="butt" stroke-dasharray="1.9 3.2"/>
<line x1="430.5" y1="421.25" x2="465.5" y2="429.5" stroke="#000" stroke-width="1.9" stroke-linecap="butt" stroke-dasharray="1.9 3.2"/>
<line x1="360" y1="471.6" x2="395.5" y2="474.5" stroke="#000" stroke-width="1.9" stroke-linecap="butt" stroke-dasharray="1.9 3.2"/>
<line x1="395.5" y1="474.5" x2="430.5" y2="469.25" stroke="#000" stroke-width="1.9" stroke-linecap="butt" stroke-dasharray="1.9 3.2"/>
<line x1="430.5" y1="469.25" x2="465.5" y2="455" stroke="#000" stroke-width="1.9" stroke-linecap="butt" stroke-dasharray="1.9 3.2"/>
<circle cx="360" cy="471.6" r="3.0500000000000003" fill="#fff" stroke="#000" stroke-width="1.3"/>
<circle cx="395.5" cy="474.5" r="3.0500000000000003" fill="#fff" stroke="#000" stroke-width="1.3"/>
<circle cx="430.5" cy="469.25" r="3.0500000000000003" fill="#fff" stroke="#000" stroke-width="1.3"/>
<circle cx="465.5" cy="455" r="3.0500000000000003" fill="#fff" stroke="#000" stroke-width="1.3"/>
<line x1="430.5" y1="406.25" x2="430.5" y2="437.5" stroke="#000" stroke-width="1.5" stroke-linecap="butt"/>
<line x1="426.9" y1="406.25" x2="434.1" y2="406.25" stroke="#000" stroke-width="1.5" stroke-linecap="butt"/>
<line x1="426.9" y1="437.5" x2="434.1" y2="437.5" stroke="#000" stroke-width="1.5" stroke-linecap="butt"/>
<line x1="465.5" y1="407.5" x2="465.5" y2="455" stroke="#000" stroke-width="1.5" stroke-linecap="butt"/>
<line x1="461.9" y1="407.5" x2="469.1" y2="407.5" stroke="#000" stroke-width="1.5" stroke-linecap="butt"/>
<line x1="430.5" y1="466.25" x2="430.5" y2="473" stroke="#000" stroke-width="1.5" stroke-linecap="butt"/>
<line x1="426.9" y1="466.25" x2="434.1" y2="466.25" stroke="#000" stroke-width="1.5" stroke-linecap="butt"/>
<line x1="426.9" y1="473" x2="434.1" y2="473" stroke="#000" stroke-width="1.5" stroke-linecap="butt"/>
<line x1="462.0" y1="453" x2="469.0" y2="453" stroke="#000" stroke-width="1.3" stroke-linecap="butt"/>
<circle cx="360" cy="475.5" r="3.7" fill="#000"/>
<circle cx="395.5" cy="474.5" r="3.7" fill="#000"/>
<circle cx="430.5" cy="421.25" r="3.7" fill="#000"/>
<circle cx="465.5" cy="429.5" r="3.7" fill="#000"/>
</svg></body></html>
